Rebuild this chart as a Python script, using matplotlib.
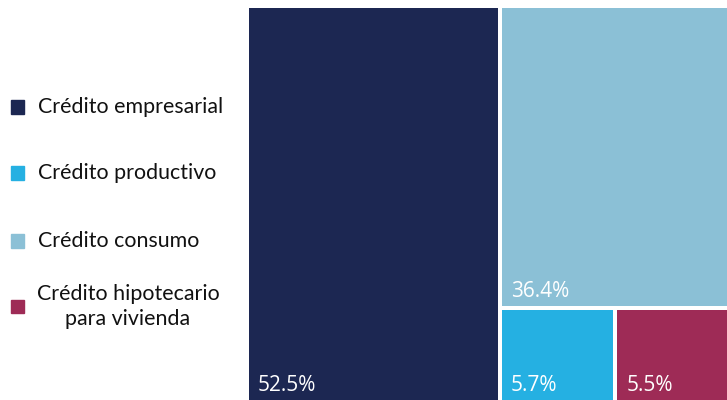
import matplotlib

matplotlib.use("Agg")
import matplotlib.pyplot as plt
from matplotlib.patches import Rectangle

# Participación de cartera por tipo de crédito (%)
CATEGORIES = ["Crédito empresarial", "Crédito productivo", "Crédito consumo",
              "Crédito hipotecario\npara vivienda"]
SHARES = [52.5, 5.7, 36.4, 5.5]
COLORS = ["#1c2752", "#25b0e2", "#8bc0d6", "#9e2b56"]

plt.rcParams["font.family"] = ["Lato", "DejaVu Sans"]

fig = plt.figure(figsize=(7.27, 4.0), dpi=100)

# --- leyenda a la izquierda
legend_y = [0.733, 0.567, 0.397, 0.234]
for name, color, y in zip(CATEGORIES, COLORS, legend_y):
    fig.patches.append(Rectangle((0.0145, y - 0.017), 0.019, 0.034, color=color,
                                 transform=fig.transFigure, figure=fig))
    two_lines = "\n" in name
    fig.text(0.176 if two_lines else 0.052, y, name, fontsize=15.4,
             va="center", ha="center" if two_lines else "left",
             color="#111111", linespacing=1.3)

# --- treemap (corte y apilado simple), unidades en píxeles
W, H, GAP = 478, 392, 4
ax = fig.add_axes([249 / 727, 0.0, W / 727, H / 400])
ax.set_xlim(0, W)
ax.set_ylim(0, H)
ax.axis("off")

total = sum(SHARES)
emp, prod, cons, hip = SHARES
w_left = W * emp / total
right = cons + prod + hip
h_bot = H * (prod + hip) / right
w_prod = (W - w_left) * prod / (prod + hip)

rects = [
    (0, 0, w_left, H),                               # empresarial
    (w_left, 0, w_left + w_prod, h_bot),             # productivo
    (w_left, h_bot, W, H),                           # consumo
    (w_left + w_prod, 0, W, h_bot),                  # hipotecario
]

for (x0, y0, x1, y1), color, val in zip(rects, COLORS, SHARES):
    x0 += GAP / 2 if x0 > 0 else 0
    y0 += GAP / 2 if y0 > 0 else 0
    x1 -= GAP / 2 if x1 < W else 0
    y1 -= GAP / 2 if y1 < H else 0
    ax.add_patch(Rectangle((x0, y0), x1 - x0, y1 - y0, facecolor=color, lw=0))
    ax.text(x0 + 9, y0 + 9, f"{val}%", color="white", fontsize=15,
            family="Open Sans", ha="left", va="baseline")

fig.savefig("out.png", dpi=100)
